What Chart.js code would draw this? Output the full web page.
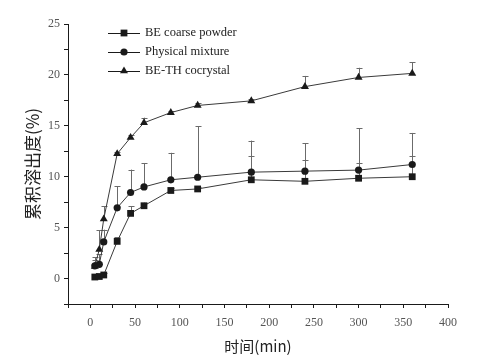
<!DOCTYPE html>
<html>
<head>
<meta charset="utf-8">
<script src="https://cdn.jsdelivr.net/npm/chart.js@4"></script>
<style>
  html, body { margin: 0; padding: 0; background: #fff; }
  #wrap { width: 496px; height: 363px; }
</style>
</head>
<body>
<div id="wrap"><canvas id="chart" width="496" height="363"></canvas></div>
<script>
// Sampling times (min)
const times = [5, 10, 15, 30, 45, 60, 90, 120, 180, 240, 300, 360];

// Cumulative dissolution (%)
const coarsePowder = [0.15, 0.2, 0.35, 3.65, 6.4, 7.15, 8.65, 8.8, 9.7, 9.55, 9.85, 10.0];
const physicalMix = [1.25, 1.4, 3.6, 6.95, 8.45, 9.0, 9.7, 9.95, 10.45, 10.55, 10.65, 11.2];
const cocrystal = [1.2, 2.85, 5.85, 12.25, 13.85, 15.3, 16.3, 17.0, 17.45, 18.85, 19.75, 20.15];

// Upper error bar size (%)
const coarseErr = [0.1, 0.1, 0.15, 0.4, 0.7, 0.3, 0.2, 0.2, 2.35, 2.05, 1.45, 2.05];
const mixErr = [0.6, 1.0, 1.2, 2.1, 2.25, 2.35, 2.65, 5.0, 3.1, 2.75, 4.1, 3.1];
const cocrystalErr = [0.9, 1.9, 1.25, 0.2, 0.25, 0.5, 0.2, 0.2, 0.2, 1.05, 0.95, 1.1];

const seriesNames = ['BE coarse powder', 'Physical mixture', 'BE-TH cocrystal'];

const xTicks = [0, 50, 100, 150, 200, 250, 300, 350, 400];
const yTicks = [0, 5, 10, 15, 20, 25];

const ink = '#1a1a1a';
const serif = '"Liberation Serif", "DejaVu Serif", serif';
const cjk = '"Noto Sans CJK SC", sans-serif';

function toPoints(values) {
    return values.map((v, i) => ({ x: times[i], y: v }));
}

// Upper error bars drawn through the chart scales
const errorBars = {
    id: 'errorBars',
    beforeDatasetsDraw(chart) {
        const ctx = chart.ctx;
        const xs = chart.scales.x;
        const ys = chart.scales.y;
        ctx.save();
        ctx.strokeStyle = '#6b6b6b';
        ctx.lineWidth = 1;
        chart.data.datasets.forEach(ds => {
            ds.errors.forEach((err, i) => {
                const px = Math.round(xs.getPixelForValue(times[i])) + 0.5;
                const y0 = ys.getPixelForValue(ds.data[i].y);
                const y1 = ys.getPixelForValue(ds.data[i].y + err);
                ctx.beginPath();
                ctx.moveTo(px, y0);
                ctx.lineTo(px, y1);
                ctx.moveTo(px - 3, Math.round(y1) + 0.5);
                ctx.lineTo(px + 3, Math.round(y1) + 0.5);
                ctx.stroke();
            });
        });
        ctx.restore();
    }
};

// Legend in the upper left corner: line with marker, then label
const insideLegend = {
    id: 'insideLegend',
    afterDraw(chart) {
        const ctx = chart.ctx;
        const area = chart.chartArea;
        ctx.save();
        ctx.font = '12.5px ' + serif;
        ctx.textBaseline = 'middle';
        chart.data.datasets.forEach((ds, i) => {
            const y = area.top + 9 + i * 19;
            const x0 = area.left + 40;
            const x1 = area.left + 72;
            ctx.strokeStyle = ink;
            ctx.lineWidth = 1;
            ctx.beginPath();
            ctx.moveTo(x0, y + 0.5);
            ctx.lineTo(x1, y + 0.5);
            ctx.stroke();
            ctx.fillStyle = ink;
            Chart.helpers.drawPoint(ctx, {
                pointStyle: ds.pointStyle,
                radius: ds.pointRadius,
                borderWidth: 0
            }, (x0 + x1) / 2, y);
            ctx.fillStyle = '#222';
            ctx.fillText(ds.label, x1 + 5, y);
        });
        ctx.restore();
    }
};

function makeSet(label, values, errs, style, radius) {
    return {
        label: label,
        data: toPoints(values),
        errors: errs,
        borderColor: '#3a3a3a',
        borderWidth: 1,
        backgroundColor: ink,
        pointBackgroundColor: ink,
        pointBorderColor: ink,
        pointBorderWidth: 0,
        pointStyle: style,
        pointRadius: radius,
        tension: 0
    };
}

const ctx = document.getElementById('chart').getContext('2d');
new Chart(ctx, {
    type: 'line',
    data: {
        datasets: [
            makeSet(seriesNames[0], coarsePowder, coarseErr, 'rect', 4.8),
            makeSet(seriesNames[1], physicalMix, mixErr, 'circle', 3.6),
            makeSet(seriesNames[2], cocrystal, cocrystalErr, 'triangle', 4.6)
        ]
    },
    options: {
        responsive: false,
        animation: false,
        layout: { padding: { left: 0, top: 24, right: 48, bottom: 0 } },
        plugins: {
            legend: { display: false },
            tooltip: { enabled: false }
        },
        scales: {
            x: {
                type: 'linear',
                min: -25,
                max: 400,
                afterFit: s => { s.height = 59; },
                afterBuildTicks: s => {
                    s.ticks = [];
                    for (let v = -25; v <= 400; v += 25) s.ticks.push({ value: v });
                },
                ticks: {
                    color: '#555',
                    font: { family: serif, size: 12 },
                    padding: 8,
                    maxRotation: 0,
                    autoSkip: false,
                    callback: v => xTicks.includes(v) ? String(v) : ''
                },
                grid: { drawOnChartArea: false, drawTicks: true, tickLength: 4, color: ink },
                border: { display: true, color: ink, width: 1 },
                title: {
                    display: true,
                    text: '时间(min)',
                    color: '#222',
                    font: { family: cjk, size: 15 },
                    padding: { top: 0, bottom: 8 }
                }
            },
            y: {
                type: 'linear',
                min: -2.5,
                max: 25,
                afterFit: s => { s.width = 68; },
                afterBuildTicks: s => {
                    s.ticks = [];
                    for (let v = -2.5; v <= 25.001; v += 2.5) s.ticks.push({ value: Math.round(v * 10) / 10 });
                },
                ticks: {
                    color: '#555',
                    font: { family: serif, size: 12 },
                    padding: 4,
                    autoSkip: false,
                    callback: v => yTicks.includes(v) ? String(v) : ''
                },
                grid: { drawOnChartArea: false, drawTicks: true, tickLength: 4, color: ink },
                border: { display: true, color: ink, width: 1 },
                title: {
                    display: true,
                    text: '累积溶出度(%)',
                    color: '#222',
                    font: { family: cjk, size: 17 },
                    padding: { top: 22, bottom: 0 }
                }
            }
        }
    },
    plugins: [errorBars, insideLegend]
});
</script>
</body>
</html>
